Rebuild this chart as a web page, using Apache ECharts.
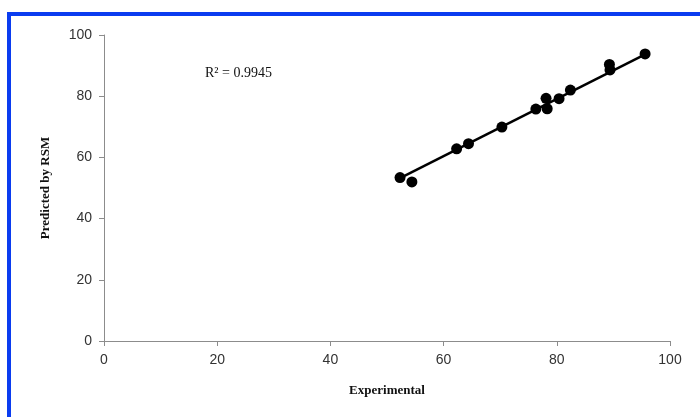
<!DOCTYPE html>
<html>
<head>
<meta charset="utf-8">
<script src="https://cdn.jsdelivr.net/npm/echarts@6/dist/echarts.min.js"></script>
<style>
html,body{margin:0;padding:0;background:#fff;}
#c{width:700px;height:417px;}
</style>
</head>
<body>
<div id="c"></div>
<script>
// Data
const experimental = [52.3, 54.4, 62.3, 64.4, 70.3, 76.3, 78.3, 78.1, 80.4, 82.4, 89.3, 89.4, 95.6];
const predicted    = [53.4, 52.0, 62.8, 64.5, 69.9, 75.8, 75.9, 79.3, 79.2, 82.0, 90.4, 88.6, 93.8];
const trendX = [52.3, 95.6];
const trendY = [53.2, 93.7];
const axisTicks = [0, 20, 40, 60, 80, 100];
const r2Label = 'R² = 0.9945';

const chart = echarts.init(document.getElementById('c'), null, {renderer: 'canvas'});
const points = experimental.map((x, i) => [x, predicted[i]]);
const trend = trendX.map((x, i) => [x, trendY[i]]);

const axisCommon = {
  min: axisTicks[0],
  max: axisTicks[axisTicks.length - 1],
  interval: axisTicks[1] - axisTicks[0],
  axisLine: {show: true, lineStyle: {color: '#8c8c8c', width: 1}},
  axisTick: {show: true, length: 5, lineStyle: {color: '#8c8c8c'}},
  splitLine: {show: false},
  axisLabel: {color: '#333', fontSize: 14, fontFamily: 'Liberation Sans, Arial, sans-serif'},
  nameLocation: 'middle',
  nameTextStyle: {fontFamily: 'Liberation Serif, Times New Roman, serif', fontWeight: 'bold', fontSize: 13, color: '#111'}
};

chart.setOption({
  animation: false,
  backgroundColor: '#fff',
  grid: {left: 104, right: 30, top: 35, bottom: 76},
  title: {
    text: r2Label, left: 200, top: 61,
    textStyle: {fontFamily: 'Liberation Serif, Times New Roman, serif', fontWeight: 'normal', fontSize: 14, color: '#111'}
  },
  xAxis: Object.assign({}, axisCommon, {
    type: 'value', name: 'Experimental', nameGap: 43,
    axisLabel: Object.assign({}, axisCommon.axisLabel, {margin: 12})
  }),
  yAxis: Object.assign({}, axisCommon, {
    type: 'value', name: 'Predicted by RSM', nameGap: 52,
    axisLabel: Object.assign({}, axisCommon.axisLabel, {margin: 12})
  }),
  graphic: [
    {type: 'rect', shape: {x: 7, y: 12, width: 693, height: 4}, style: {fill: '#0a3cf0'}, silent: true},
    {type: 'rect', shape: {x: 7, y: 12, width: 4, height: 405}, style: {fill: '#0a3cf0'}, silent: true}
  ],
  series: [
    {
      type: 'line', data: trend, showSymbol: false, symbol: 'none',
      lineStyle: {color: '#000', width: 2.5}, z: 2
    },
    {
      type: 'scatter', data: points, symbol: 'circle', symbolSize: 11,
      itemStyle: {color: '#000', opacity: 1}, z: 3
    }
  ]
});
</script>
</body>
</html>
